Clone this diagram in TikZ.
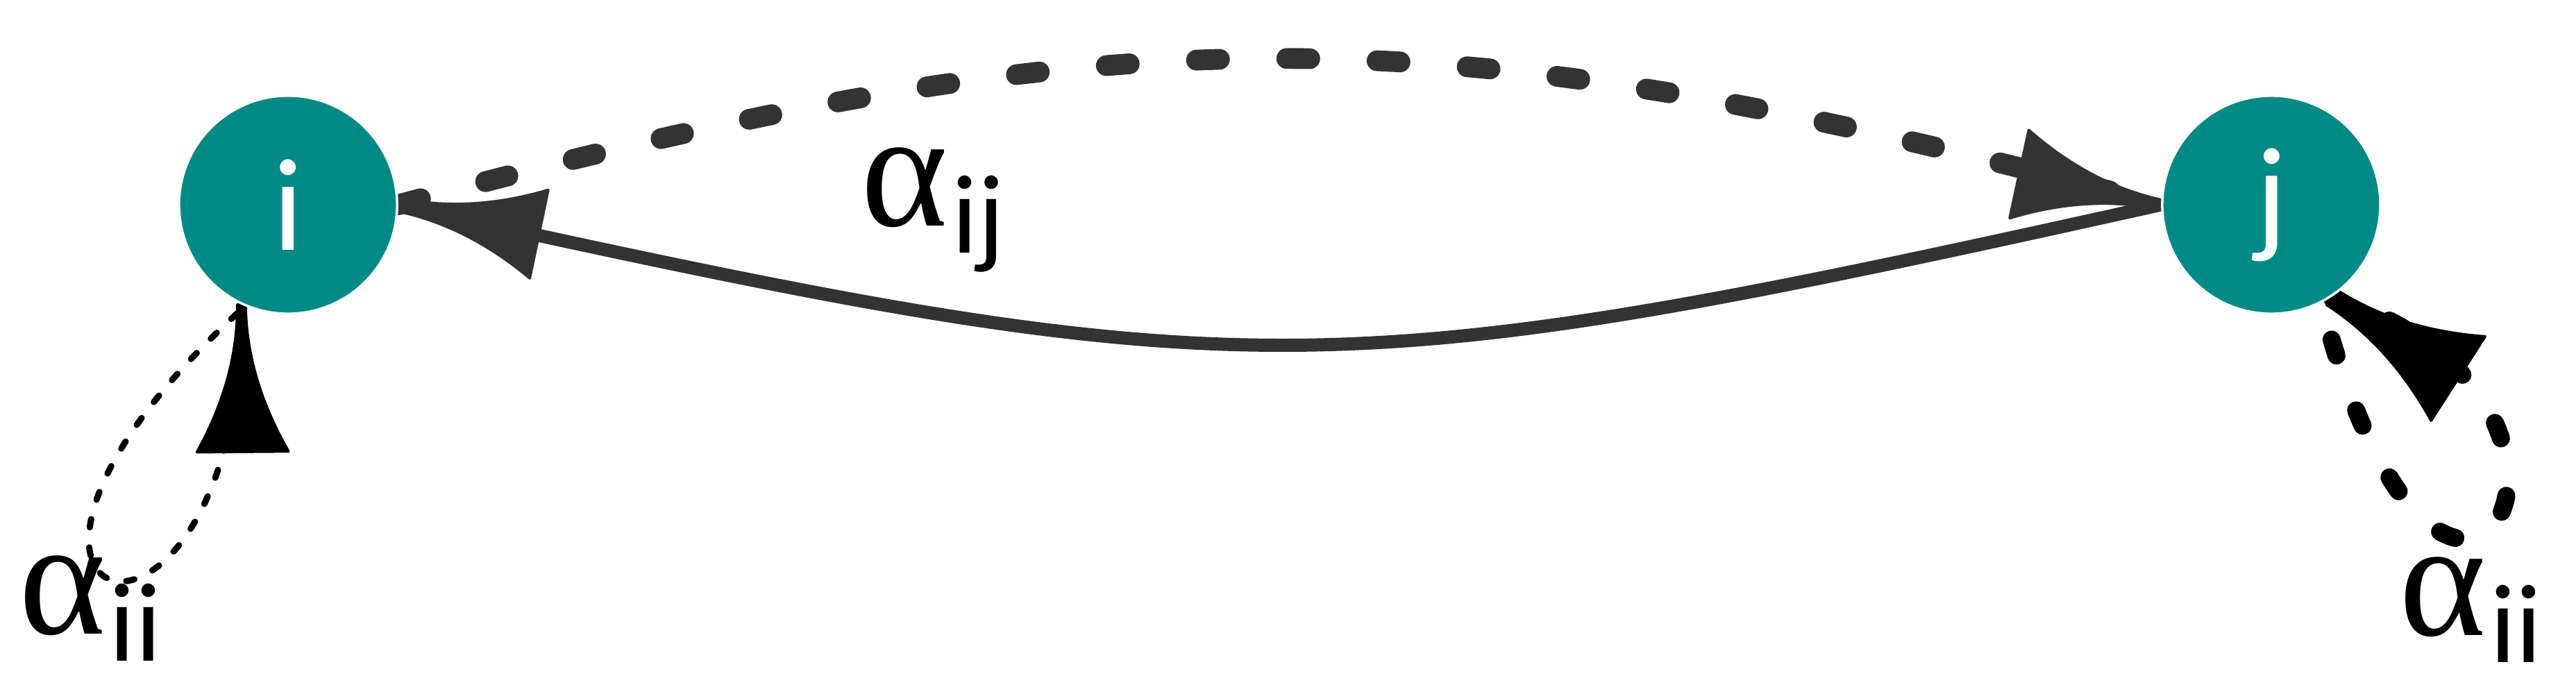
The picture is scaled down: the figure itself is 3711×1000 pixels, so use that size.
\documentclass[tikz,border=0pt]{standalone}
\usepackage{fontspec}
\setmainfont{Liberation Serif}
\newfontfamily\labelfont{Carlito}
\usetikzlibrary{calc}
\definecolor{tealnode}{HTML}{008A86}
\definecolor{dgray}{HTML}{333333}
\pgfdeclarelayer{bg}
\pgfsetlayers{bg,main}
\newcommand{\conchead}[6]{%
  \begin{scope}[shift={(#1)}, rotate=#2]
    \filldraw[#6, line width=1.1pt, line join=round]
      (0,-#5) -- (0,#5)
      .. controls ({#3/3},#5) and ({2*#3/3},{#4/3+2*#5/3}) .. (#3,#4)
      -- (#3,-#4)
      .. controls ({2*#3/3},{-#4/3-2*#5/3}) and ({#3/3},-#5) .. (0,-#5) -- cycle;
  \end{scope}}
\newcommand{\alab}[1]{\fontsize{68}{72}\selectfont α\hspace{0.05cm}\raisebox{-0.39cm}{\labelfont\fontsize{46}{50}\selectfont #1}}
\begin{document}
\begin{tikzpicture}[x=0.01cm, y=-0.01cm,
  vertex/.style={circle, fill=tealnode, draw=white, line width=1pt, minimum size=3.14cm, inner sep=0pt,
    text=white, font=\labelfont\fontsize{54}{60}\selectfont},
  solidline/.style={draw=dgray, line width=5.4pt},
  topdash/.style={draw=dgray, line width=8.5pt, line cap=round, dash pattern=on 9.4pt off 27.6pt},
  iloopline/.style={draw=black, line width=2.56pt, line cap=round, dash pattern=on 3.4pt off 8.25pt, dash phase=7.4pt},
  jloopline/.style={draw=black, line width=7.4pt, line cap=round, dash pattern=on 6.8pt off 23.9pt, dash phase=15.1pt},
  alabel/.style={anchor=base west, inner sep=0pt, text=black}]
\useasboundingbox (0,0) rectangle (3711,1000);
\node[vertex] (i) at (415,295) {i};
\node[vertex] (j) at (3272,295) {j};
\node[alabel] (aij) at (1240,325) {\alab{ij}};
\node[alabel] (aiil) at (27,913) {\alab{ii}};
\node[alabel] (aiir) at (3456,915) {\alab{ii}};
\begin{pgfonlayer}{bg}
\draw[topdash] (i.east) .. controls +(1040,-281) and +(-1040,-281) .. (j.west);
\draw[solidline] (j.west) .. controls +(-1215,270) and +(1225,270) .. (i.east);
\draw[iloopline] (i.247) .. controls +(-503,456) and +(0,600) .. (i.245);
\draw[jloopline] (j.297) .. controls +(180,690) and +(480,150) .. (j.303);
\conchead{i.east}{-11.8}{207}{65}{9.5}{dgray}
\conchead{j.west}{167.8}{209}{65}{7}{dgray}
\conchead{i.245}{-89.5}{212}{66}{6}{black}
\conchead{j.303}{-32.7}{217}{72}{13}{black}
\end{pgfonlayer}
\end{tikzpicture}
\end{document}
